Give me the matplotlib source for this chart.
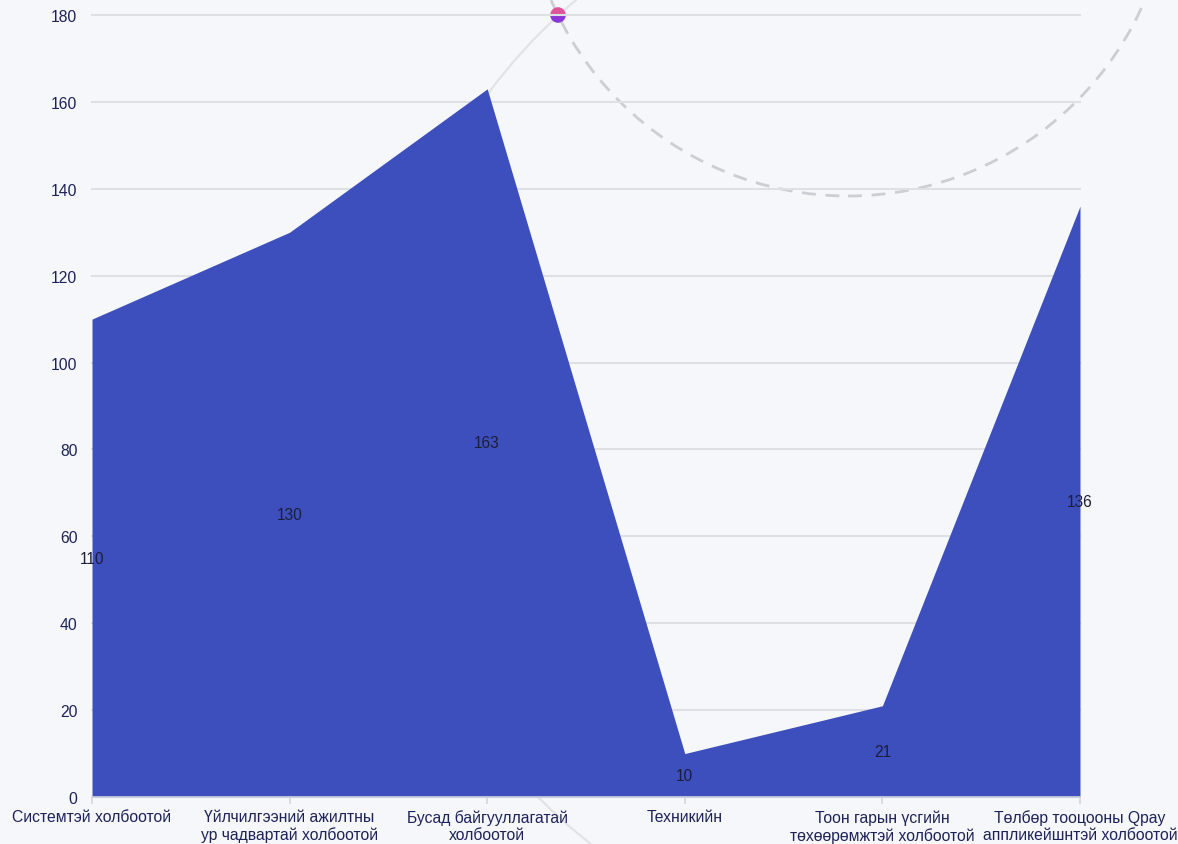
import matplotlib
matplotlib.use("Agg")
import matplotlib.pyplot as plt
from matplotlib.patches import Circle, Wedge
import numpy as np

categories = [
    "Системтэй холбоотой",
    "Үйлчилгээний ажилтны\nур чадвартай холбоотой",
    "Бусад байгууллагатай\nхолбоотой",
    "Техникийн",
    "Тоон гарын үсгийн\nтөхөөрөмжтэй холбоотой",
    "Төлбөр тооцооны Qpay\nаппликейшнтэй холбоотой",
]
values = [110, 130, 163, 10, 21, 136]
y_ticks = [0, 20, 40, 60, 80, 100, 120, 140, 160, 180]

W, H = 1178, 845
plt.rcParams['font.family'] = ['Liberation Sans', 'DejaVu Sans']

bg = '#f5f7fb'
fig = plt.figure(figsize=(W / 100, H / 100), dpi=100, facecolor=bg)
ax = fig.add_axes([92 / W, 47 / H, 988 / W, 782 / H])
ax.set_facecolor('none')

# decorative circles (figure pixel coordinates, behind the axes)
def add_circle(cx, cy, r, **kw):
    c = Circle((cx / 100, (H - cy) / 100), r / 100, transform=fig.dpi_scale_trans,
               fill=False, zorder=-5, **kw)
    fig.add_artist(c)

add_circle(925, 417, 543, edgecolor='#e2e3e7', linewidth=1.6)
add_circle(848, -126, 323, edgecolor='#cdced4', linewidth=2.0, linestyle=(0, (5, 3.5)))

# dot
dcx, dcy, dr = 558 / 100, (H - 16) / 100, 7.8 / 100
fig.add_artist(Wedge((dcx, dcy), dr, 0, 180, transform=fig.dpi_scale_trans,
                     facecolor='#e0559a', edgecolor='none', zorder=-4))
fig.add_artist(Wedge((dcx, dcy), dr, 180, 360, transform=fig.dpi_scale_trans,
                     facecolor='#8a35d6', edgecolor='none', zorder=-4))

x = np.arange(len(categories))
ax.fill_between(x, 0, values, color='#3d4fbd', linewidth=0, zorder=3)

for xi, v in zip(x, values):
    ax.text(xi, v / 2, str(v), ha='center', va='center', fontsize=11.2,
            color='#1b1d3a', zorder=5)

ax.set_xlim(0, len(categories) - 1)
ax.set_ylim(0, 180)
ax.set_yticks(y_ticks)
ax.set_yticklabels([str(t) for t in y_ticks])
ax.set_xticks(x)
ax.set_xticklabels(categories, linespacing=1.15)

ax.grid(axis='y', color='#dfe0e3', linewidth=1.5, zorder=1)
ax.grid(axis='x', visible=False)
ax.set_axisbelow(True)
for gl in ax.get_ygridlines():
    gl.set_clip_on(False)

for s in ['top', 'right', 'left']:
    ax.spines[s].set_visible(False)
ax.spines['bottom'].set_color('#d5d6da')
ax.spines['bottom'].set_linewidth(1.2)
ax.spines['bottom'].set_zorder(4)

ax.tick_params(axis='y', length=0, pad=10.5, labelsize=11.3, labelcolor='#1e2257')
ax.tick_params(axis='x', length=5, width=1.2, color='#d5d6da', pad=4,
               labelsize=11.3, labelcolor='#1e2257')

fig.savefig('out.png', dpi=100, facecolor=bg)
